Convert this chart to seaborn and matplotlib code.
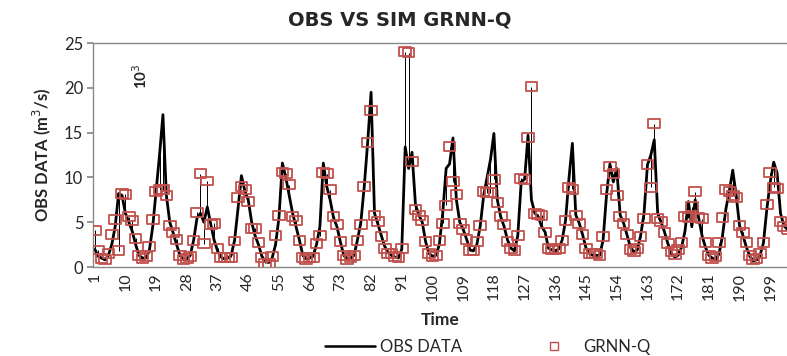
import numpy as np
import pandas as pd
import matplotlib
matplotlib.use("Agg")
import matplotlib.pyplot as plt
from matplotlib.lines import Line2D
from matplotlib.path import Path
import seaborn as sns

# ---- data ----
obs = [
    2.0, 1.2, 1.0, 0.8, 1.3, 2.5, 4.5, 8.2, 8.0, 6.0,
    5.0, 4.0, 2.5, 1.3, 1.0, 1.0, 1.8, 4.5, 8.5, 12.5,
    17.0, 8.0, 5.0, 3.8, 2.5, 1.3, 0.8, 0.9, 1.3, 3.0,
    5.5, 6.0, 5.0, 6.7, 4.8, 3.0, 1.8, 1.1, 0.9, 1.0,
    1.3, 3.0, 6.5, 10.2, 8.5, 7.5, 5.0, 3.5, 2.5, 1.2,
    0.6, 0.5, 1.0, 2.5, 5.5, 11.6, 10.0, 8.0, 6.0, 4.5,
    3.0, 1.3, 0.9, 1.0, 1.2, 2.5, 4.5, 11.6, 9.0, 7.5,
    5.5, 4.5, 2.8, 1.3, 0.9, 1.0, 1.3, 3.0, 5.0, 9.0,
    13.9, 19.5, 6.0, 4.8, 3.5, 2.3, 1.6, 1.3, 1.1, 1.0,
    2.0, 13.4, 11.0, 12.8, 7.0, 5.8, 5.0, 2.8, 1.5, 1.2,
    1.3, 2.5, 6.0, 11.0, 11.5, 14.4, 7.5, 5.0, 4.2, 3.1,
    1.9, 1.8, 2.5, 4.6, 8.0, 10.0, 12.0, 14.9, 7.5, 5.6,
    4.5, 3.0, 2.1, 1.8, 3.5, 9.5, 9.8, 14.7, 7.5, 6.0,
    5.6, 4.5, 3.9, 2.1, 1.9, 1.8, 2.0, 3.0, 5.2, 9.9,
    13.8, 5.8, 4.9, 3.6, 2.1, 1.5, 1.3, 1.3, 1.3, 3.0,
    8.0, 11.5, 9.5, 11.0, 5.8, 4.9, 3.6, 2.2, 1.7, 1.9,
    3.5, 6.0, 11.4, 12.5, 14.2, 6.0, 5.0, 3.9, 2.6, 1.5,
    1.1, 1.3, 2.2, 4.0, 7.3, 4.5, 7.5, 5.5, 3.5, 2.2,
    1.3, 1.0, 0.8, 1.5, 3.5, 6.5, 8.5, 10.8, 8.0, 4.6,
    3.5, 2.2, 1.2, 0.7, 0.8, 1.3, 2.7, 6.5, 9.5, 11.7,
    10.5, 6.0, 4.6, 4.2,
]
grnn = [
    4.1, 1.9, 1.0, 0.8, 1.5, 3.6, 5.3, 1.8, 8.2, 8.1,
    5.6, 5.2, 3.2, 1.3, 1.0, 1.2, 2.3, 5.3, 8.4, 8.6,
    8.6, 8.0, 4.6, 3.8, 3.1, 1.3, 0.8, 1.0, 1.2, 3.0,
    6.1, 10.4, 2.6, 9.6, 4.7, 4.9, 2.1, 1.1, 1.1, 1.1,
    1.1, 2.9, 7.8, 9.0, 8.7, 7.3, 4.3, 4.3, 2.7, 1.1,
    0.4, 0.4, 1.2, 3.5, 5.8, 10.6, 10.4, 9.2, 5.6, 5.2,
    3.0, 1.1, 0.8, 1.1, 1.1, 2.6, 3.5, 10.5, 10.4, 8.6,
    5.6, 4.7, 2.8, 1.3, 0.8, 1.1, 1.3, 3.0, 4.7, 9.0,
    13.9, 17.5, 5.7, 5.1, 3.4, 2.1, 1.5, 1.5, 1.2, 1.1,
    2.1, 24.0, 23.9, 11.8, 6.4, 5.8, 5.2, 2.8, 1.5, 1.2,
    1.3, 3.0, 4.9, 6.9, 13.4, 9.5, 8.1, 4.9, 4.2, 3.1,
    1.8, 1.8, 2.8, 4.6, 8.4, 8.3, 8.3, 9.8, 7.2, 5.6,
    4.7, 2.8, 2.1, 1.8, 3.5, 9.9, 9.8, 14.5, 20.1, 6.0,
    5.9, 5.8, 3.9, 2.1, 1.9, 2.0, 2.1, 3.0, 5.2, 8.9,
    8.7, 5.7, 4.9, 3.6, 2.1, 1.5, 1.5, 1.5, 1.3, 3.4,
    8.6, 11.2, 10.4, 8.0, 5.6, 4.9, 3.6, 2.0, 1.7, 2.1,
    3.4, 5.4, 11.4, 8.9, 16.0, 5.4, 5.1, 3.9, 2.6, 1.7,
    1.4, 2.0, 2.7, 5.6, 5.5, 6.7, 8.4, 5.5, 5.4, 2.7,
    1.3, 1.0, 1.15, 2.7, 5.5, 8.6, 8.4, 8.0, 7.8, 4.6,
    3.9, 2.7, 1.3, 0.8, 0.9, 1.5, 2.7, 7.0, 10.5, 8.9,
    8.8, 5.1, 4.5, 4.2,
]
assert len(obs) == len(grnn) == 204
time = list(range(1, len(obs) + 1))
tick_labels = [str(t) for t in range(1, 200, 9)]

df = pd.DataFrame({"Time": time, "OBS DATA": obs, "GRNN-Q": grnn})

sns.set_theme(style="white")
plt.rcParams["font.family"] = ["Lato", "DejaVu Sans"]

fig = plt.figure(figsize=(7.87, 3.56), dpi=100)
ax = fig.add_axes([93 / 787, 1 - 267 / 356, 1 - 93 / 787, (267 - 43) / 356])

red = "#c0504d"
# high-low lines between the two series
ax.vlines(df["Time"], df[["OBS DATA", "GRNN-Q"]].min(axis=1),
          df[["OBS DATA", "GRNN-Q"]].max(axis=1), color="black", lw=0.7, zorder=1)
sns.lineplot(data=df, x="Time", y="OBS DATA", ax=ax, color="black", lw=2.0,
             zorder=2, legend=False)
rect = Path([(-1.3, -1.0), (1.3, -1.0), (1.3, 1.0), (-1.3, 1.0), (-1.3, -1.0)],
            [Path.MOVETO, Path.LINETO, Path.LINETO, Path.LINETO, Path.CLOSEPOLY])
sns.scatterplot(data=df, x="Time", y="GRNN-Q", ax=ax, marker=rect, s=70,
                facecolor="none", edgecolor=red, linewidth=1.3, zorder=3, legend=False)

ax.set_xlim(0.5, 203.9)
ax.set_ylim(0, 25)
ax.set_yticks([0, 5, 10, 15, 20, 25])
ax.set_xticks([int(t) for t in tick_labels])
ax.set_xticklabels(tick_labels, rotation=90, fontsize=11.5)
ax.tick_params(axis="y", labelsize=12, length=4, direction="out", left=True,
               color="#888888", pad=3)
ax.tick_params(axis="x", length=0, pad=4)

for side in ["left", "bottom", "top"]:
    ax.spines[side].set_color("#888888")
    ax.spines[side].set_linewidth(1.0)
ax.spines["right"].set_visible(False)

ax.set_xlabel("Time", fontsize=12.5, fontweight="bold", labelpad=8)
ax.set_ylabel("OBS DATA (m$^3$/s)", fontsize=12, fontweight="bold", labelpad=8)

ax.text(14.5, 21.3, "10$^3$", rotation=90, fontsize=11, fontweight="bold",
        ha="center", va="center")

fig.text(0.508, 0.945, "OBS VS SIM GRNN-Q", ha="center", va="center",
         fontsize=14, fontweight="heavy", family=["DejaVu Sans"])

handles = [Line2D([], [], color="black", lw=1.8),
           Line2D([], [], ls="none", marker="s", markersize=6, markerfacecolor="none",
                  markeredgecolor=red, markeredgewidth=1.0)]
fig.legend(handles, ["OBS DATA", "GRNN-Q"], loc="center", bbox_to_anchor=(0.62, 0.025),
           ncol=2, frameon=False, fontsize=12, columnspacing=4.0, handlelength=3.0,
           handletextpad=0.3)

fig.savefig("out.png", dpi=100)
